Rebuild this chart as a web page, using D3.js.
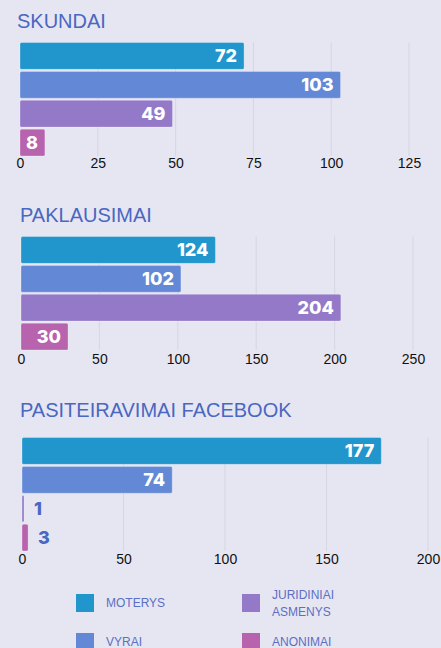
<!DOCTYPE html>
<html>
<head>
<meta charset="utf-8">
<script src="https://cdn.jsdelivr.net/npm/d3@7"></script>
<style>
  body { margin: 0; background: #e6e6f2; }
  svg { display: block; }
</style>
</head>
<body>
<div id="chart"></div>
<script>
// data
var categories = ['MOTERYS', 'VYRAI', 'JURIDINIAI ASMENYS', 'ANONIMAI'];
var colors = ['#2196cd', '#6389d6', '#9479c9', '#b763ad'];

var titles = ['SKUNDAI', 'PAKLAUSIMAI', 'PASITEIRAVIMAI FACEBOOK'];
var skundai = [72, 103, 49, 8];
var paklausimai = [124, 102, 204, 30];
var facebook = [177, 74, 1, 3];
var tickSets = [
  [0, 25, 50, 75, 100, 125],
  [0, 50, 100, 150, 200, 250],
  [0, 50, 100, 150, 200]
];

var width = 441, height = 648;
var svg = d3.select('#chart').append('svg')
  .attr('width', width)
  .attr('height', height);

// panel layouts
var panels = [
  { title: titles[0], values: skundai, ticks: tickSets[0], titleX: 17, titleY: 28, x0: 20, xMaxVal: 125, xMaxPx: 409, top: 42.5, bottom: 156, tickY: 169 },
  { title: titles[1], values: paklausimai, ticks: tickSets[1], titleX: 20, titleY: 222, x0: 21, xMaxVal: 250, xMaxPx: 413, top: 236.5, bottom: 350, tickY: 365 },
  { title: titles[2], values: facebook, ticks: tickSets[2], titleX: 20, titleY: 417, x0: 22, xMaxVal: 200, xMaxPx: 428, top: 437.5, bottom: 551, tickY: 565 }
];

panels.forEach(function(p) {
  var g = svg.append('g');

  g.append('text')
    .attr('x', p.titleX)
    .attr('y', p.titleY)
    .attr('fill', '#4a67c1')
    .style('font-family', 'Liberation Sans, Arial, sans-serif')
    .style('font-size', '20px')
    .text(p.title);

  var x = d3.scaleLinear().domain([0, p.xMaxVal]).range([p.x0, p.xMaxPx]);
  var y = d3.scaleBand().domain(categories).range([p.top, p.bottom]).paddingInner(0.07);

  // gridlines
  g.selectAll('line.grid')
    .data(p.ticks.filter(function(t) { return t > 0; }))
    .enter().append('line')
      .attr('class', 'grid')
      .attr('x1', function(d) { return x(d); })
      .attr('x2', function(d) { return x(d); })
      .attr('y1', p.top)
      .attr('y2', p.bottom)
      .attr('stroke', '#d6d6e4')
      .attr('stroke-width', 1);

  // bars
  g.selectAll('rect.bar')
    .data(p.values)
    .enter().append('rect')
      .attr('class', 'bar')
      .attr('x', x(0))
      .attr('y', function(d, i) { return y(categories[i]); })
      .attr('width', function(d) { return Math.max(x(d) - x(0), 1.5); })
      .attr('height', y.bandwidth())
      .attr('rx', 1.5)
      .attr('fill', function(d, i) { return colors[i]; })
      .attr('stroke', 'rgba(255,255,255,0.35)')
      .attr('stroke-width', 0.8);

  // value labels: inside when the bar is wide enough, else just after it
  g.selectAll('text.val')
    .data(p.values)
    .enter().append('text')
      .attr('class', 'val')
      .attr('x', function(d) {
        var w = x(d) - x(0);
        return w > 22 ? x(d) - 7 : x(d) + 10;
      })
      .attr('y', function(d, i) { return y(categories[i]) + y.bandwidth() / 2; })
      .attr('dy', '0.36em')
      .attr('text-anchor', function(d) { return (x(d) - x(0)) > 22 ? 'end' : 'start'; })
      .attr('fill', function(d) { return (x(d) - x(0)) > 22 ? '#ffffff' : '#4a67c1'; })
      .style('font-family', 'Inter, Lato, sans-serif')
      .style('font-weight', '800')
      .style('font-size', '18px')
      .text(function(d) { return d; });

  // axis tick labels
  var axis = d3.axisBottom(x).tickValues(p.ticks).tickSize(0).tickPadding(0);
  var ax = g.append('g')
    .attr('transform', 'translate(0,' + (p.tickY - 11) + ')')
    .call(axis);
  ax.select('.domain').remove();
  ax.selectAll('text')
    .attr('fill', '#111')
    .style('font-family', 'Liberation Sans, Arial, sans-serif')
    .style('font-size', '14px');
});

// legend
var legendItems = [
  { i: 0, x: 76, y: 594, lines: ['MOTERYS'] },
  { i: 2, x: 242, y: 594, lines: ['JURIDINIAI', 'ASMENYS'] },
  { i: 1, x: 76, y: 633, lines: ['VYRAI'] },
  { i: 3, x: 242, y: 633, lines: ['ANONIMAI'] }
];

var lg = svg.append('g');
legendItems.forEach(function(it) {
  lg.append('rect')
    .attr('x', it.x)
    .attr('y', it.y)
    .attr('width', 18)
    .attr('height', 18)
    .attr('fill', colors[it.i]);
  var startY = it.y + 9 - (it.lines.length - 1) * 8.5;
  var t = lg.append('text')
    .attr('fill', '#5b6fc4')
    .style('font-family', 'Liberation Sans, Arial, sans-serif')
    .style('font-size', '12px');
  it.lines.forEach(function(line, k) {
    t.append('tspan')
      .attr('x', it.x + 30)
      .attr('y', startY + k * 17)
      .attr('dy', '0.35em')
      .text(line);
  });
});
</script>
</body>
</html>
